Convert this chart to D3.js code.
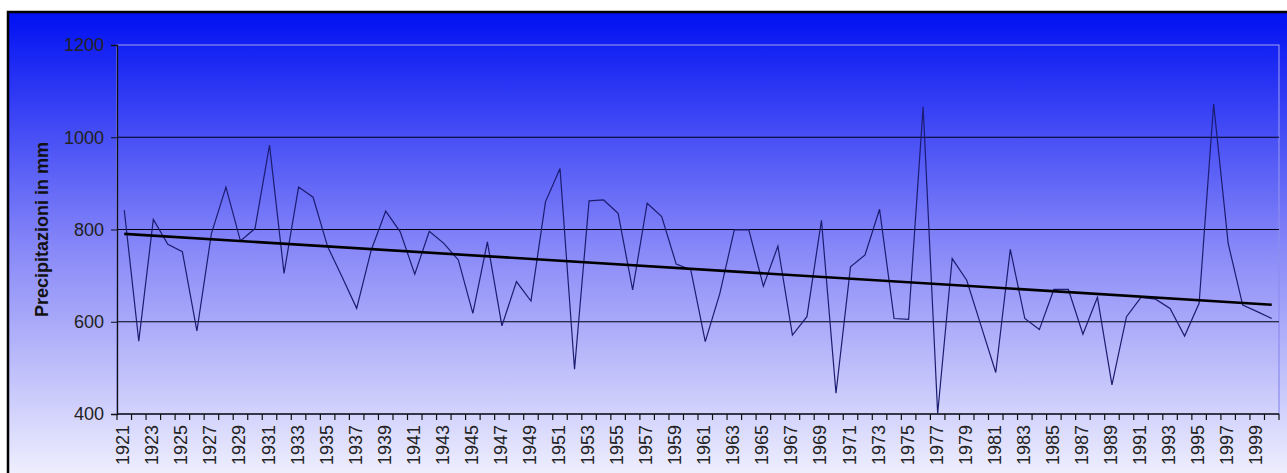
<!DOCTYPE html>
<html>
<head>
<meta charset="utf-8">
<script src="https://cdn.jsdelivr.net/npm/d3@7"></script>
<style>
  body { margin: 0; background: #fff; }
  svg { display: block; font-family: "Liberation Sans", Arial, sans-serif; }
</style>
</head>
<body>
<div id="chart"></div>
<script>
// annual precipitation, 1921-2000
const years = d3.range(1921, 2001);
const rain = [
  842, 558, 822, 768, 752, 580, 791, 892, 775, 802,
  983, 705, 892, 870, 763, 697, 629, 755, 840, 795,
  703, 796, 770, 734, 618, 773, 591, 687, 645, 860,
  932, 497, 862, 864, 835, 669, 857, 828, 725, 713,
  557, 661, 799, 799, 677, 764, 571, 611, 820, 445,
  719, 745, 844, 607, 605, 1066, 401, 737, 690, 590,
  490, 757, 607, 583, 670, 670, 573, 653, 463, 611,
  653, 649, 629, 569, 640, 1072, 770, 636, 622, 607
];
const yTicks = [400, 600, 800, 1000, 1200];
const yTitle = "Precipitazioni in mm";

const W = 1287, H = 473;
const svg = d3.select('#chart').append('svg')
    .attr('width', W)
    .attr('height', H);

// background gradient of the chart area
const defs = svg.append('defs');
const grad = defs.append('linearGradient')
    .attr('id', 'bg')
    .attr('x1', 0).attr('y1', 0).attr('x2', 0).attr('y2', 1);
grad.append('stop').attr('offset', '0%').attr('stop-color', '#0010f2');
grad.append('stop').attr('offset', '50%').attr('stop-color', '#8a8af8');
grad.append('stop').attr('offset', '100%').attr('stop-color', '#f8f8fe');

svg.append('rect')
    .attr('x', 8).attr('y', 12)
    .attr('width', W + 10).attr('height', H + 10)
    .attr('fill', 'url(#bg)')
    .attr('stroke', 'black')
    .attr('stroke-width', 2.5);

const pLeft = 117, pRight = 1279, pTop = 45, pBottom = 414;

const x = d3.scaleBand().domain(years).range([pLeft, pRight]);
const y = d3.scaleLinear().domain([400, 1200]).range([pBottom, pTop]);
const cx = d => x(d) + x.bandwidth() / 2;

// plot area border (light)
svg.append('rect')
    .attr('x', pLeft).attr('y', pTop)
    .attr('width', pRight - pLeft).attr('height', pBottom - pTop)
    .attr('fill', 'none')
    .attr('stroke', '#8c8cf0')
    .attr('stroke-width', 1.2);

// gridlines
svg.append('g')
    .selectAll('line')
    .data(yTicks.filter(v => v > 400 && v < 1200))
    .join('line')
    .attr('x1', pLeft).attr('x2', pRight)
    .attr('y1', d => y(d)).attr('y2', d => y(d))
    .attr('stroke', '#000010')
    .attr('stroke-width', 1.2);

// y axis
const yAxis = svg.append('g')
    .attr('transform', `translate(${pLeft},0)`)
    .call(d3.axisLeft(y).tickValues(yTicks).tickFormat(d3.format('d'))
        .tickSize(6).tickPadding(7));
yAxis.select('.domain').attr('stroke', '#111').attr('stroke-width', 1.3);
yAxis.selectAll('.tick line').attr('stroke', '#111');
yAxis.selectAll('text')
    .attr('fill', '#222')
    .style('font-size', '18px');

// x axis: ticks between categories, labels every other year
const xg = svg.append('g');
xg.append('line')
    .attr('x1', pLeft).attr('x2', pRight)
    .attr('y1', pBottom).attr('y2', pBottom)
    .attr('stroke', '#111').attr('stroke-width', 1.3);
xg.selectAll('line.tk')
    .data(years.map(d => x(d)).concat([pRight]))
    .join('line')
    .attr('class', 'tk')
    .attr('x1', d => d).attr('x2', d => d)
    .attr('y1', pBottom).attr('y2', pBottom + 6)
    .attr('stroke', '#111').attr('stroke-width', 1.2);
xg.selectAll('text')
    .data(years.filter(d => d % 2 === 1))
    .join('text')
    .attr('transform', d => `translate(${cx(d) + 5},${pBottom + 11}) rotate(-90)`)
    .attr('text-anchor', 'end')
    .attr('fill', '#222')
    .style('font-size', '18px')
    .text(d => d);

// y title
svg.append('text')
    .attr('transform', `translate(48,${(pTop + pBottom) / 2}) rotate(-90)`)
    .attr('text-anchor', 'middle')
    .attr('fill', '#111')
    .style('font-size', '18px')
    .style('font-weight', 'bold')
    .text(yTitle);

// data line
const pts = years.map((yr, i) => [yr, rain[i]]);
svg.append('path')
    .datum(pts)
    .attr('fill', 'none')
    .attr('stroke', '#1c1c70')
    .attr('stroke-width', 1.2)
    .attr('d', d3.line().x(d => cx(d[0])).y(d => y(d[1])));

// linear trend
const mx = d3.mean(years), my = d3.mean(rain);
const slope = d3.sum(years, (yr, i) => (yr - mx) * (rain[i] - my)) /
              d3.sum(years, yr => (yr - mx) * (yr - mx));
const trend = yr => my + slope * (yr - mx);
svg.append('path')
    .datum([years[0], years[years.length - 1]])
    .attr('fill', 'none')
    .attr('stroke', '#000')
    .attr('stroke-width', 2.6)
    .attr('d', d3.line().x(d => cx(d)).y(d => y(trend(d))));
</script>
</body>
</html>
